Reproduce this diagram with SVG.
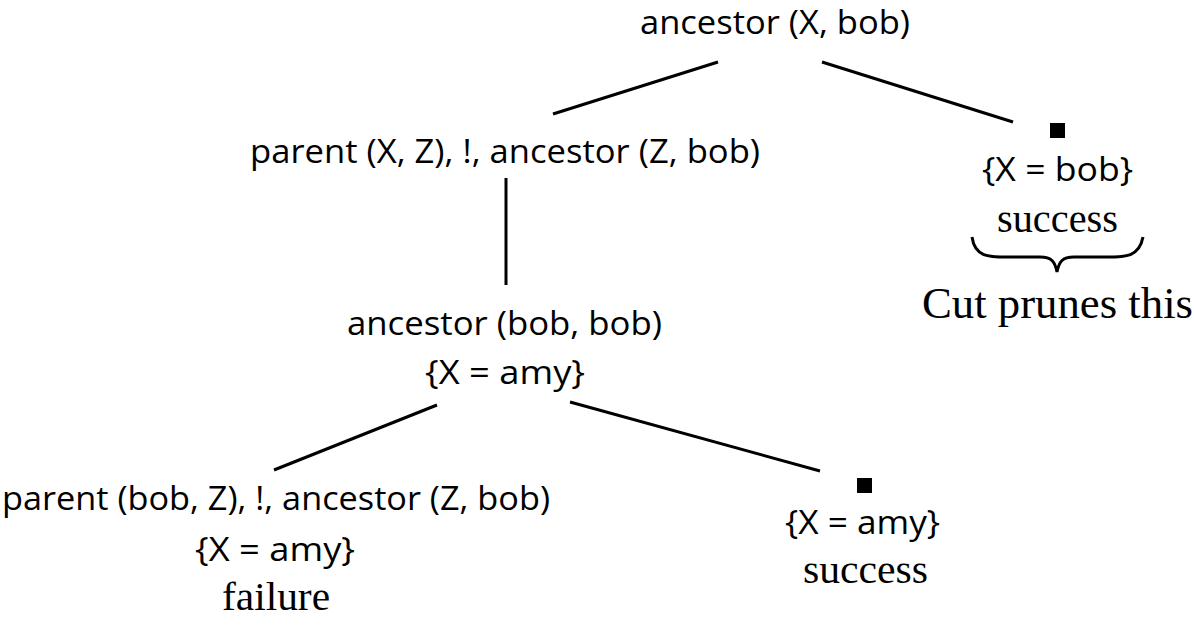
<svg xmlns="http://www.w3.org/2000/svg" width="1194" height="630" viewBox="0 0 1194 630">
<style>
.s{font-family:"Open Sans","Noto Sans",sans-serif;font-size:33px;fill:#000;text-anchor:start}
.r{font-family:"Liberation Serif","Times New Roman",serif;font-size:40px;fill:#000;text-anchor:start}
.e{stroke:#000;stroke-width:3;fill:none}
.m{fill:#000}
</style>
<rect width="1194" height="630" fill="#fff"/>
<g id="connectors">
<line class="e" x1="553" y1="114" x2="718" y2="62"/>
<line class="e" x1="822" y1="62" x2="1013" y2="122"/>
<line class="e" x1="506" y1="178" x2="506" y2="285"/>
<line class="e" x1="437" y1="405" x2="274" y2="470"/>
<line class="e" x1="570" y1="402" x2="820" y2="471"/>
</g>
<g id="n1"><text class="s" x="640" y="34" textLength="270" lengthAdjust="spacingAndGlyphs">ancestor (X, bob)</text></g>
<g id="n2"><text class="s" x="250" y="163" textLength="510" lengthAdjust="spacingAndGlyphs">parent (X, Z), !, ancestor (Z, bob)</text></g>
<g id="n3">
<rect class="m" x="1050" y="123" width="15" height="15"/>
<text class="s" x="982" y="181" textLength="151" lengthAdjust="spacingAndGlyphs">{X = bob}</text>
<text class="r" x="997" y="232" textLength="121" lengthAdjust="spacingAndGlyphs">success</text>
<path class="e" stroke-width="2.5" d="M972,237 C975,258 990,257 1010,257 L1040,257 C1052,257 1055,262 1057,272 C1059,262 1062,257 1074,257 L1104,257 C1124,257 1139,258 1143,237"/>
<text class="r" x="922" y="318" style="font-size:44px" textLength="271" lengthAdjust="spacingAndGlyphs">Cut prunes this</text>
</g>
<g id="n4">
<text class="s" x="347" y="335" textLength="315" lengthAdjust="spacingAndGlyphs">ancestor (bob, bob)</text>
<text class="s" x="425" y="384" textLength="160" lengthAdjust="spacingAndGlyphs">{X = amy}</text>
</g>
<g id="n5">
<text class="s" x="2" y="510" textLength="548" lengthAdjust="spacingAndGlyphs">parent (bob, Z), !, ancestor (Z, bob)</text>
<text class="s" x="195" y="561" textLength="160" lengthAdjust="spacingAndGlyphs">{X = amy}</text>
<text class="r" x="222" y="610" textLength="108" lengthAdjust="spacingAndGlyphs">failure</text>
</g>
<g id="n6">
<rect class="m" x="857" y="478" width="15" height="15"/>
<text class="s" x="785" y="534" textLength="155" lengthAdjust="spacingAndGlyphs">{X = amy}</text>
<text class="r" x="803" y="583" textLength="125" lengthAdjust="spacingAndGlyphs">success</text>
</g>
</svg>
